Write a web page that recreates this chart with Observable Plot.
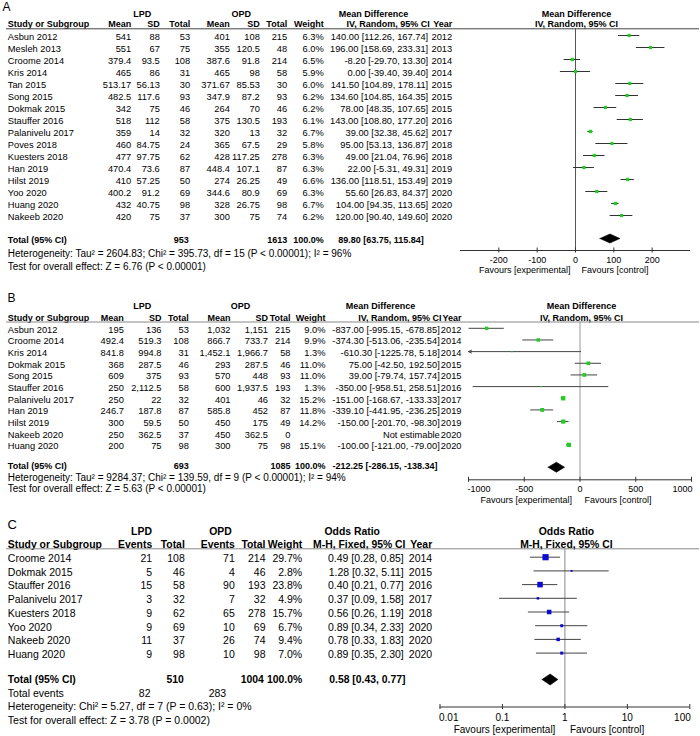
<!DOCTYPE html>
<html><head><meta charset="utf-8">
<script src="https://cdn.jsdelivr.net/npm/d3@7"></script>
<script src="https://cdn.jsdelivr.net/npm/@observablehq/plot@0.6"></script>
<style>
body{margin:0;background:#fff;}
#chart{position:relative;width:700px;height:736px;overflow:hidden;}
#chart svg{position:absolute;left:0;display:block;}
</style></head><body><div id="chart"></div>
<script>
// ================= DATA: Panel A (continuous, Mean Difference) =================
const studiesA = ["Asbun 2012","Mesleh 2013","Croome 2014","Kris 2014","Tan 2015","Song 2015","Dokmak 2015","Stauffer 2016","Palanivelu 2017","Poves 2018","Kuesters 2018","Han 2019","Hilst 2019","Yoo 2020","Huang 2020","Nakeeb 2020"];
const lpdMeanA = [541, 551, 379.4, 465, 513.17, 482.5, 342, 518, 359, 460, 477, 470.4, 410, 400.2, 432, 420];
const lpdSdA   = [88, 67, 93.5, 86, 56.13, 117.6, 75, 112, 14, 84.75, 97.75, 73.6, 57.25, 91.2, 40.75, 75];
const lpdNA    = [53, 75, 108, 31, 30, 93, 46, 58, 32, 24, 62, 87, 50, 69, 98, 37];
const opdMeanA = [401, 355, 387.6, 465, 371.67, 347.9, 264, 375, 320, 365, 428, 448.4, 274, 344.6, 328, 300];
const opdSdA   = [108, 120.5, 91.8, 98, 85.53, 87.2, 70, 130.5, 13, 67.5, 117.25, 107.1, 26.25, 80.9, 26.75, 75];
const opdNA    = [215, 48, 214, 58, 30, 93, 46, 193, 32, 29, 278, 87, 49, 69, 98, 74];
const weightA  = [6.3, 6.0, 6.5, 5.9, 6.0, 6.2, 6.2, 6.1, 6.7, 5.8, 6.3, 6.3, 6.6, 6.3, 6.7, 6.2];
const mdA      = [140.00, 196.00, -8.20, 0.00, 141.50, 134.60, 78.00, 143.00, 39.00, 95.00, 49.00, 22.00, 136.00, 55.60, 104.00, 120.00];
const loA      = [112.26, 158.69, -29.70, -39.40, 104.89, 104.85, 48.35, 108.80, 32.38, 53.13, 21.04, -5.31, 118.51, 26.83, 94.35, 90.40];
const hiA      = [167.74, 233.31, 13.30, 39.40, 178.11, 164.35, 107.65, 177.20, 45.62, 136.87, 76.96, 49.31, 153.49, 84.37, 113.65, 149.60];
const yearA    = [2012, 2013, 2014, 2014, 2015, 2015, 2015, 2016, 2017, 2018, 2018, 2019, 2019, 2020, 2020, 2020];
const totalNA  = [953, 1613];
const totalA   = [89.80, 63.75, 115.84];
const hetA  = "Heterogeneity: Tau² = 2604.83; Chi² = 395.73, df = 15 (P < 0.00001); I² = 96%";
const testA = "Test for overall effect: Z = 6.76 (P < 0.00001)";
const ticksA = [-200, -100, 0, 100, 200];

// ================= DATA: Panel B =================
const studiesB = ["Asbun 2012","Croome 2014","Kris 2014","Dokmak 2015","Song 2015","Stauffer 2016","Palanivelu 2017","Han 2019","Hilst 2019","Nakeeb 2020","Huang 2020"];
const lpdMeanB = [195, 492.4, 841.8, 368, 609, 250, 250, 246.7, 300, 250, 200];
const lpdSdB   = [136, 519.3, 994.8, 287.5, 375, 2112.5, 22, 187.8, 59.5, 362.5, 75];
const lpdNB    = [53, 108, 31, 46, 93, 58, 32, 87, 50, 37, 98];
const opdMeanB = [1032, 866.7, 1452.1, 293, 570, 600, 401, 585.8, 450, 450, 300];
const opdSdB   = [1151, 733.7, 1966.7, 287.5, 448, 1937.5, 46, 452, 175, 362.5, 75];
const opdNB    = [215, 214, 58, 46, 93, 193, 32, 87, 49, 0, 98];
const weightB  = [9.0, 9.9, 1.3, 11.0, 11.0, 1.3, 15.2, 11.8, 14.2, null, 15.1];
const mdB      = [-837.00, -374.30, -610.30, 75.00, 39.00, -350.00, -151.00, -339.10, -150.00, null, -100.00];
const loB      = [-995.15, -513.06, -1225.78, -42.50, -79.74, -958.51, -168.67, -441.95, -201.70, null, -121.00];
const hiB      = [-678.85, -235.54, 5.18, 192.50, 157.74, 258.51, -133.33, -236.25, -98.30, null, -79.00];
const yearB    = [2012, 2014, 2014, 2015, 2015, 2016, 2017, 2019, 2019, 2020, 2020];
const totalNB  = [693, 1085];
const totalB   = [-212.25, -286.15, -138.34];
const hetB  = "Heterogeneity: Tau² = 9284.37; Chi² = 139.59, df = 9 (P < 0.00001); I² = 94%";
const testB = "Test for overall effect: Z = 5.63 (P < 0.00001)";
const ticksB = [-1000, -500, 0, 500, 1000];

// ================= DATA: Panel C (dichotomous, Odds Ratio) =================
const studiesC = ["Croome 2014","Dokmak 2015","Stauffer 2016","Palanivelu 2017","Kuesters 2018","Yoo 2020","Nakeeb 2020","Huang 2020"];
const lpdEvC  = [21, 5, 15, 3, 9, 9, 11, 9];
const lpdNC   = [108, 46, 58, 32, 62, 69, 37, 98];
const opdEvC  = [71, 4, 90, 7, 65, 10, 26, 10];
const opdNC   = [214, 46, 193, 32, 278, 69, 74, 98];
const weightC = [29.7, 2.8, 23.8, 4.9, 15.7, 6.7, 9.4, 7.0];
const orC     = [0.49, 1.28, 0.40, 0.37, 0.56, 0.89, 0.78, 0.89];
const loC     = [0.28, 0.32, 0.21, 0.09, 0.26, 0.34, 0.33, 0.35];
const hiC     = [0.85, 5.11, 0.77, 1.58, 1.19, 2.33, 1.83, 2.30];
const yearC   = [2014, 2015, 2016, 2017, 2018, 2020, 2020, 2020];
const totalNC = [510, 1004];
const totalEvC = [82, 283];
const totalC  = [0.58, 0.43, 0.77];
const hetC  = "Heterogeneity: Chi² = 5.27, df = 7 (P = 0.63); I² = 0%";
const testC = "Test for overall effect: Z = 3.78 (P = 0.0002)";
const ticksC = [0.01, 0.1, 1, 10, 100];

// ================= helpers =================
const FONT = "'Liberation Sans', Arial, Helvetica, sans-serif";
const fmtN = d3.format(",");
const ci2 = (e, l, h) => `${e.toFixed(2)} [${l.toFixed(2)}, ${h.toFixed(2)}]`;
const pct = w => w == null ? "" : w.toFixed(1) + "%";

const rowsA = studiesA.map((study, i) => ({i, study, a: fmtN(lpdMeanA[i]), b: fmtN(lpdSdA[i]), c: String(lpdNA[i]), d: fmtN(opdMeanA[i]), e: fmtN(opdSdA[i]), f: String(opdNA[i]), w: weightA[i], est: mdA[i], lo: loA[i], hi: hiA[i], year: String(yearA[i])}));
const rowsB = studiesB.map((study, i) => ({i, study, a: fmtN(lpdMeanB[i]), b: fmtN(lpdSdB[i]), c: String(lpdNB[i]), d: fmtN(opdMeanB[i]), e: fmtN(opdSdB[i]), f: String(opdNB[i]), w: weightB[i], est: mdB[i], lo: loB[i], hi: hiB[i], year: String(yearB[i])}));
const rowsC = studiesC.map((study, i) => ({i, study, a: String(lpdEvC[i]), c: String(lpdNC[i]), d: String(opdEvC[i]), f: String(opdNC[i]), w: weightC[i], est: orC[i], lo: loC[i], hi: hiC[i], year: String(yearC[i])}));

const ciText = d => d.est == null ? "Not estimable" : ci2(d.est, d.lo, d.hi);

function panel(P) {
  const r = px => (px - P.row0) / P.step;
  const T = (data, o) => Plot.text(data, {fontSize: P.fsReg, fill: "#000", text: d => d, ...o});
  const L = (x) => ({frameAnchor: "left", dx: x});
  const rows = P.rows;
  const valid = rows.filter(d => d.est != null);
  const [xmin, xmax] = P.x.domain;
  const [te, tl, th] = P.total;
  const t = r(P.diamondY), h = P.diamondHalf / P.step;
  const diamond = [{x: tl, y: t}, {x: te, y: t - h}, {x: th, y: t}, {x: te, y: t + h}, {x: tl, y: t}];
  const B = {fontWeight: "bold", fontSize: P.fsBold};
  const A = {fontSize: P.fsAxis};
  const nT = P.ticks.length;
  const tickMarks = P.endAnchors
    ? [T(P.ticks.slice(0, 1), {x: d => d, y: () => r(P.tickY), text: P.tickFmt, textAnchor: "start", dx: -1, ...A}),
       T(P.ticks.slice(1, nT - 1), {x: d => d, y: () => r(P.tickY), text: P.tickFmt, ...A}),
       T(P.ticks.slice(nT - 1), {x: d => d, y: () => r(P.tickY), text: P.tickFmt, textAnchor: "end", dx: 1, ...A})]
    : [T(P.ticks, {x: d => d, y: () => r(P.tickY), text: P.tickFmt, ...A})];
  const marks = [
    T([P.letter], {...L(P.letterX), y: () => r(P.letterY), fontSize: P.letterFs, textAnchor: "start"}),
    ...P.groups.map(g => T([g.label], {...L(g.x), y: () => r(P.h1), textAnchor: "middle", ...B})),
    ...P.columns.map(c => T([c.head], {...L(c.hx ?? c.x), y: () => r(P.h2), textAnchor: c.anchor, ...B})),
    ...P.columns.map(c => T(rows, {...L(c.x), y: "i", dy: P.textDy, text: c.value, textAnchor: c.anchor})),
    Plot.ruleY([r(P.ruleY)], {y: d => d, insetLeft: 6, insetRight: 1, stroke: P.ruleColor}),
    ...P.extra.map(e => T([e.text], {...L(e.x), y: () => r(e.y), textAnchor: e.anchor, ...(e.bold ? B : {}), ...(e.fs ? {fontSize: e.fs} : {})})),
    // forest plot
    T([P.fh1], {x: () => P.ref, dx: P.fdx, y: () => r(P.h1), ...B}),
    T([P.fh2], {x: () => P.ref, dx: P.fdx, y: () => r(P.h2), ...B}),
    Plot.ruleX([P.ref], {x: d => d, y1: () => r(P.ruleY), y2: () => r(P.axisY), stroke: P.zeroColor}),
    Plot.ruleY(valid.filter(d => d.lo >= xmin), {y: "i", x1: "lo", x2: "hi", stroke: P.ciColor}),
    Plot.arrow(valid.filter(d => d.lo < xmin), {y1: "i", y2: "i", x1: "hi", x2: "lo", stroke: P.ciColor, headLength: 5, headAngle: 50, strokeWidth: 1}),
    Plot.dot(valid, {x: "est", y: "i", r: "w", symbol: "square", fill: P.markColor}),
    Plot.line(diamond, {x: "x", y: "y", fill: "#000", stroke: "#000", strokeWidth: 0.6}),
    Plot.ruleY([r(P.axisY)], {y: d => d, x1: () => xmin, x2: () => xmax, stroke: "#333"}),
    Plot.ruleX(P.ticks, {x: d => d, y1: () => r(P.axisY - 2.5), y2: () => r(P.axisY + 2.5), stroke: "#333"}),
    ...tickMarks,
    T(["Favours [experimental]"], {x: () => P.ref, y: () => r(P.favY), textAnchor: "end", dx: P.favDx[0], ...A}),
    T(["Favours [control]"], {x: () => P.ref, y: () => r(P.favY), textAnchor: "start", dx: P.favDx[1], ...A})
  ];
  const svg = Plot.plot({
    width: 700, height: P.height, margin: 0,
    style: {background: "#fff", fontFamily: FONT, overflow: "visible"},
    x: {...P.x, axis: null},
    y: {type: "linear", domain: [0, 1], range: [P.row0 - P.top, P.row0 - P.top + P.step], axis: null},
    r: {domain: [0, P.maxW], range: [0, P.rmax]},
    marks
  });
  svg.style.top = P.top + "px";
  return svg;
}

const contCols = (xs, ciHead) => [
  {head: "Study or Subgroup", x: xs[0], anchor: "start", value: d => d.study},
  {head: "Mean", x: xs[1], anchor: "end", value: d => d.a},
  {head: "SD", x: xs[2], anchor: "end", value: d => d.b},
  {head: "Total", x: xs[3], anchor: "end", value: d => d.c},
  {head: "Mean", x: xs[4], anchor: "end", value: d => d.d},
  {head: "SD", x: xs[5], anchor: "end", value: d => d.e},
  {head: "Total", x: xs[6], anchor: "end", value: d => d.f},
  {head: "Weight", x: xs[7], anchor: "end", value: d => pct(d.w)},
  {head: ciHead, hx: xs[8], x: xs[9], anchor: "end", value: ciText},
  {head: "Year", x: xs[10], anchor: "end", value: d => d.year}
];

const chart = document.getElementById("chart");

// ---- Panel A ----
chart.appendChild(panel({
  top: 0, height: 282, row0: 35, step: 12, fsReg: 9.3, fsBold: 9, fsAxis: 9, textDy: 1.5,
  rows: rowsA, letter: "A", letterX: 2, letterY: 7, letterFs: 12,
  h1: 13.3, h2: 24, ruleY: 28.3, ruleColor: "#444",
  groups: [{label: "LPD", x: 141.7}, {label: "OPD", x: 240.7}, {label: "Mean Difference", x: 373}],
  columns: contCols([7.3, 130.7, 159.3, 189.7, 229.3, 259.3, 286.7, 323.3, 429.3, 427.7, 451.7], "IV, Random, 95% CI"),
  extra: [
    {text: "Total (95% CI)", x: 7.3, y: 240, anchor: "start", bold: true},
    {text: String(totalNA[0]), x: 188.3, y: 240, anchor: "end", bold: true},
    {text: String(totalNA[1]), x: 286.7, y: 240, anchor: "end", bold: true},
    {text: "100.0%", x: 323.3, y: 240, anchor: "end", bold: true},
    {text: ci2(...totalA), x: 423.3, y: 240, anchor: "end", bold: true},
    {text: hetA, x: 7.3, y: 253, anchor: "start", fs: 10},
    {text: testA, x: 7.3, y: 266, anchor: "start", fs: 10}
  ],
  x: {type: "linear", domain: [-300, 300], range: [460, 690]},
  ref: 0, fdx: 1, fh1: "Mean Difference", fh2: "IV, Random, 95% CI",
  zeroColor: "#555", ciColor: "#333", markColor: "#22cc22", maxW: 6.7, rmax: 1.9,
  total: totalA, diamondY: 238, diamondHalf: 4.5, endAnchors: false,
  axisY: 250, ticks: ticksA, tickFmt: d => String(d), tickY: 259.3, favY: 269.3, favDx: [-5, 6]
}));

// ---- Panel B ----
chart.appendChild(panel({
  top: 282, height: 223, row0: 327.8, step: 11.66, fsReg: 9.3, fsBold: 9, fsAxis: 9, textDy: 1.5,
  rows: rowsB, letter: "B", letterX: 7, letterY: 298, letterFs: 12,
  h1: 306, h2: 317.5, ruleY: 321.5, ruleColor: "#888",
  groups: [{label: "LPD", x: 141.7}, {label: "OPD", x: 240}, {label: "Mean Difference", x: 380}],
  columns: contCols([7.3, 123.3, 161, 188.3, 230, 267.5, 290, 325, 441, 439.3, 461], "IV, Random, 95% CI"),
  extra: [
    {text: "Total (95% CI)", x: 7.3, y: 466, anchor: "start", bold: true},
    {text: String(totalNB[0]), x: 188.3, y: 466, anchor: "end", bold: true},
    {text: String(totalNB[1]), x: 290, y: 466, anchor: "end", bold: true},
    {text: "100.0%", x: 325, y: 466, anchor: "end", bold: true},
    {text: ci2(...totalB), x: 332, y: 466, anchor: "start", bold: true},
    {text: hetB, x: 7.3, y: 477, anchor: "start", fs: 10},
    {text: testB, x: 7.3, y: 488, anchor: "start", fs: 10}
  ],
  x: {type: "linear", domain: [-1000, 1000], range: [468, 691], clamp: true},
  ref: 0, fdx: 1.5, fh1: "Mean Difference", fh2: "IV, Random, 95% CI",
  zeroColor: "#999", ciColor: "#444", markColor: "#22cc22", maxW: 15.2, rmax: 2.45,
  total: totalB, diamondY: 466.7, diamondHalf: 5, endAnchors: true,
  axisY: 479.3, ticks: ticksB, tickFmt: d => String(d), tickY: 488.3, favY: 499.3, favDx: [-8, 4.5]
}));

// ---- Panel C ----
chart.appendChild(panel({
  top: 505, height: 231, row0: 556.7, step: 13.7, fsReg: 10.5, fsBold: 10.4, fsAxis: 10, textDy: 1.5,
  rows: rowsC, letter: "C", letterX: 7, letterY: 524, letterFs: 13,
  h1: 531, h2: 544.5, ruleY: 548.3, ruleColor: "#888",
  groups: [{label: "LPD", x: 141}, {label: "OPD", x: 220}, {label: "Odds Ratio", x: 351.7}],
  columns: [
    {head: "Study or Subgroup", x: 7.3, anchor: "start", value: d => d.study},
    {head: "Events", x: 151.7, anchor: "end", value: d => d.a},
    {head: "Total", x: 184.3, anchor: "end", value: d => d.c},
    {head: "Events", x: 234.3, anchor: "end", value: d => d.d},
    {head: "Total", x: 265, anchor: "end", value: d => d.f},
    {head: "Weight", x: 301.7, anchor: "end", value: d => pct(d.w)},
    {head: "M-H, Fixed, 95% CI", hx: 405, x: 403.3, anchor: "end", value: ciText},
    {head: "Year", x: 431.7, anchor: "end", value: d => d.year}
  ],
  extra: [
    {text: "Total (95% CI)", x: 7.3, y: 679, anchor: "start", bold: true},
    {text: String(totalNC[0]), x: 183.3, y: 679, anchor: "end", bold: true},
    {text: String(totalNC[1]), x: 263.3, y: 679, anchor: "end", bold: true},
    {text: "100.0%", x: 301.7, y: 679, anchor: "end", bold: true},
    {text: ci2(...totalC), x: 405, y: 679, anchor: "end", bold: true},
    {text: "Total events", x: 7.3, y: 693, anchor: "start"},
    {text: String(totalEvC[0]), x: 150, y: 693, anchor: "end"},
    {text: String(totalEvC[1]), x: 225.7, y: 693, anchor: "end"},
    {text: hetC, x: 7.3, y: 706.5, anchor: "start"},
    {text: testC, x: 7.3, y: 720, anchor: "start"}
  ],
  x: {type: "log", domain: [0.01, 100], range: [439.5, 689.3]},
  ref: 1, fdx: 1.5, fh1: "Odds Ratio", fh2: "M-H, Fixed, 95% CI",
  zeroColor: "#888", ciColor: "#444", markColor: "#0a0ad0", maxW: 29.7, rmax: 3.5,
  total: totalC, diamondY: 679, diamondHalf: 5.5, endAnchors: true,
  axisY: 706.5, ticks: ticksC, tickFmt: d => String(d), tickY: 717.5, favY: 729, favDx: [-9.5, 5]
}));
</script></body></html>
